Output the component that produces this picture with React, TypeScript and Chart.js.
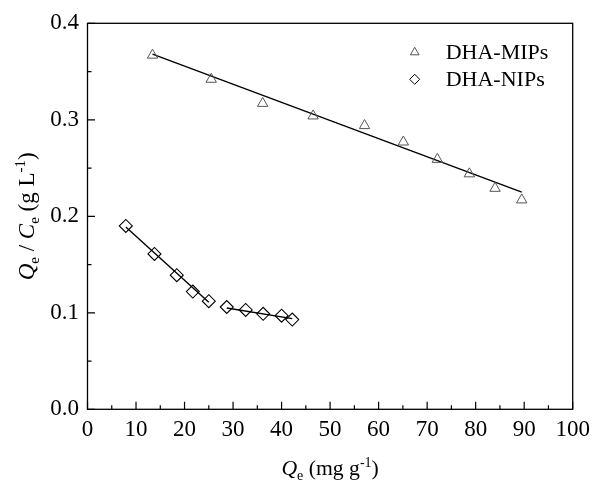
import React, { useEffect, useRef } from "react";
import { Chart, registerables } from "chart.js";

Chart.register(...registerables);

const mipX = [13.4, 25.5, 36.1, 46.5, 57.1, 65.1, 72.1, 78.7, 84.0, 89.5];
const mipY = [0.367, 0.342, 0.317, 0.304, 0.294, 0.277, 0.259, 0.244, 0.229, 0.217];
const nipX = [7.9, 13.8, 18.4, 21.7, 25.0, 28.7, 32.6, 36.2, 40.0, 42.2];
const nipY = [0.190, 0.161, 0.139, 0.122, 0.112, 0.106, 0.103, 0.099, 0.097, 0.093];

const mipFitX = [13.4, 89.5];
const mipFitY = [0.368, 0.225];
const nipFit1X = [7.9, 25.0];
const nipFit1Y = [0.189, 0.111];
const nipFit2X = [28.7, 42.2];
const nipFit2Y = [0.105, 0.094];

const legendLabels = ["DHA-MIPs", "DHA-NIPs"];
const xMin = 0, xMax = 100, xStep = 10;
const yMin = 0, yMax = 0.4, yStep = 0.1;

const FONT = "'Liberation Serif', 'Times New Roman', serif";

type Seg = { t: string; it?: boolean; sub?: boolean; sup?: boolean };
const xTitle: Seg[] = [
  { t: "Q", it: true }, { t: "e", sub: true }, { t: " (mg g" }, { t: "-1", sup: true }, { t: ")" },
];
const yTitle: Seg[] = [
  { t: "Q", it: true }, { t: "e", sub: true }, { t: " / " }, { t: "C", it: true }, { t: "e", sub: true },
  { t: " (g L" }, { t: "-1", sup: true }, { t: ")" },
];

function zip(xs: number[], ys: number[]) {
  return xs.map((x, i) => ({ x, y: ys[i] }));
}

function drawRich(ctx: CanvasRenderingContext2D, segs: Seg[], size: number) {
  const small = Math.round(size * 0.65);
  const fontOf = (s: Seg) =>
    `${s.it ? "italic " : ""}${s.sub || s.sup ? small : size}px ${FONT}`;
  let total = 0;
  for (const s of segs) {
    ctx.font = fontOf(s);
    total += ctx.measureText(s.t).width;
  }
  let x = -total / 2;
  ctx.textBaseline = "alphabetic";
  ctx.textAlign = "left";
  for (const s of segs) {
    ctx.font = fontOf(s);
    const dy = s.sub ? size * 0.22 : s.sup ? -size * 0.38 : 0;
    ctx.fillText(s.t, x, dy);
    x += ctx.measureText(s.t).width;
  }
}

const decorPlugin = {
  id: "decor",
  afterDraw(chart: any) {
    const { ctx, chartArea: a, scales } = chart;
    const xs = scales.x, ys = scales.y;
    ctx.save();
    ctx.strokeStyle = "#000";
    ctx.lineWidth = 1.3;
    ctx.strokeRect(a.left, a.top, a.right - a.left, a.bottom - a.top);
    ctx.lineWidth = 1.2;
    ctx.beginPath();
    for (let v = xMin; v <= xMax + 1e-9; v += xStep / 2) {
      const major = Math.abs(v / xStep - Math.round(v / xStep)) < 1e-6;
      const px = xs.getPixelForValue(v);
      ctx.moveTo(px, a.bottom);
      ctx.lineTo(px, a.bottom - (major ? 7.5 : 4));
    }
    for (let v = yMin; v <= yMax + 1e-9; v += yStep / 2) {
      const major = Math.abs(v / yStep - Math.round(v / yStep)) < 1e-6;
      const py = ys.getPixelForValue(v);
      ctx.moveTo(a.left, py);
      ctx.lineTo(a.left + (major ? 7.5 : 4), py);
    }
    ctx.stroke();

    // axis titles
    ctx.fillStyle = "#000";
    ctx.save();
    ctx.translate((a.left + a.right) / 2, 475);
    drawRich(ctx, xTitle, 21.7);
    ctx.restore();
    ctx.save();
    ctx.translate(34, (a.top + a.bottom) / 2);
    ctx.rotate(-Math.PI / 2);
    drawRich(ctx, yTitle, 23);
    ctx.restore();

    // legend
    const lx = a.right - 158;
    const ly0 = a.top + 29;
    const gap = 27;
    const ds = chart.data.datasets;
    legendLabels.forEach((lab, i) => {
      const d = ds[i];
      const y = ly0 + i * gap;
      ctx.strokeStyle = d.pointBorderColor;
      ctx.lineWidth = 1;
      ctx.beginPath();
      const r = 5;
      if (d.pointStyle === "triangle") {
        ctx.moveTo(lx, y - r);
        ctx.lineTo(lx + r * Math.sin(2 * Math.PI / 3), y - r * Math.cos(2 * Math.PI / 3));
        ctx.lineTo(lx - r * Math.sin(2 * Math.PI / 3), y - r * Math.cos(2 * Math.PI / 3));
      } else {
        ctx.moveTo(lx - r, y);
        ctx.lineTo(lx, y - r);
        ctx.lineTo(lx + r, y);
        ctx.lineTo(lx, y + r);
      }
      ctx.closePath();
      ctx.stroke();
      ctx.fillStyle = "#000";
      ctx.font = `22px ${FONT}`;
      ctx.textAlign = "left";
      ctx.textBaseline = "middle";
      ctx.fillText(lab, lx + 31, y + 1);
    });
    ctx.restore();
  },
};

export default function App() {
  const ref = useRef<HTMLCanvasElement | null>(null);
  useEffect(() => {
    document.body.style.margin = "0";
    const line = (xs: number[], ys: number[]) => ({
      type: "line" as const,
      data: zip(xs, ys),
      showLine: true,
      borderColor: "#000",
      borderWidth: 1.4,
      pointRadius: 0,
      fill: false,
    });
    const chart = new Chart(ref.current!, {
      type: "scatter",
      data: {
        datasets: [
          {
            label: legendLabels[0],
            data: zip(mipX, mipY),
            pointStyle: "triangle",
            pointRadius: 6,
            pointBorderColor: "#555",
            pointBackgroundColor: "rgba(0,0,0,0)",
            pointBorderWidth: 1,
          } as any,
          {
            label: legendLabels[1],
            data: zip(nipX, nipY),
            pointStyle: "rectRot",
            pointRadius: 6.5,
            pointBorderColor: "#000",
            pointBackgroundColor: "rgba(0,0,0,0)",
            pointBorderWidth: 1.1,
          } as any,
          line(mipFitX, mipFitY),
          line(nipFit1X, nipFit1Y),
          line(nipFit2X, nipFit2Y),
        ],
      },
      options: {
        responsive: false,
        animation: false,
        layout: { padding: { top: 23.3, right: 20.3, left: 0, bottom: 0 } },
        plugins: { legend: { display: false }, tooltip: { enabled: false } },
        scales: {
          x: {
            type: "linear",
            min: xMin,
            max: xMax,
            grid: { display: false, drawTicks: false },
            border: { display: false },
            ticks: {
              stepSize: xStep,
              color: "#000",
              padding: 7,
              font: { family: FONT, size: 23 },
              maxRotation: 0,
            },
            afterFit: (s: any) => {
              s.height = 74.7;
              s.paddingLeft = 0; s.paddingRight = 0; s.paddingTop = 0; s.paddingBottom = 0;
            },
          },
          y: {
            type: "linear",
            min: yMin,
            max: yMax,
            grid: { display: false, drawTicks: false },
            border: { display: false },
            ticks: {
              stepSize: yStep,
              color: "#000",
              padding: 8.5,
              font: { family: FONT, size: 23 },
              callback: (v: any) => Number(v).toFixed(1),
            },
            afterFit: (s: any) => {
              s.width = 87.5;
              s.paddingLeft = 0; s.paddingRight = 0; s.paddingTop = 0; s.paddingBottom = 0;
            },
          },
        },
      },
      plugins: [decorPlugin],
    });
    return () => chart.destroy();
  }, []);
  return (
    <div style={{ width: 593, height: 484 }}>
      <canvas ref={ref} width={593} height={484} />
    </div>
  );
}
